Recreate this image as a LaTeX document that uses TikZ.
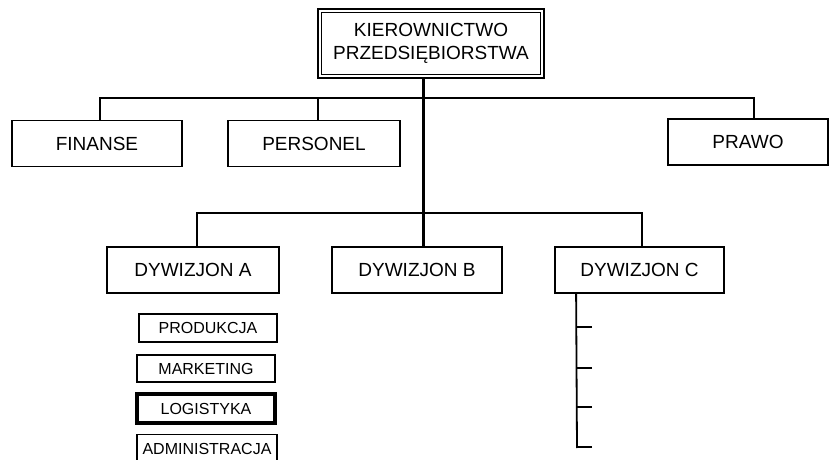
\documentclass[tikz,border=0pt]{standalone}
\usepackage{fontspec}
\setmainfont{Liberation Sans}
\begin{document}
\begin{tikzpicture}[x=1pt,y=-1pt,
  unit/.style={draw=black,line width=1.8pt,inner sep=0pt,align=center,
    font=\fontsize{19}{22.5}\selectfont},
  dept/.style={unit,minimum height=46pt},
  small/.style={draw=black,line width=1.8pt,inner sep=0pt,
    font=\fontsize{16}{18}\selectfont,minimum width=138pt,minimum height=28pt},
  link/.style={line width=1.8pt},
  trunk/.style={line width=3pt}]
\useasboundingbox (0,0) rectangle (831,460);

% management box with double frame
\node[unit,line width=2.6pt,minimum width=226pt,minimum height=69pt] (top) at (431,43.5)
  {KIEROWNICTWO\\PRZEDSIĘBIORSTWA};
\draw[line width=1.3pt] ([shift={(4.5,4.5)}]top.north west) rectangle ([shift={(-4.5,-4.5)}]top.south east);

% staff units
\node[dept,minimum width=170pt] (fin) at (97,143.5) {FINANSE};
\node[dept,minimum width=172pt] (pers) at (314,143.5) {PERSONEL};
\node[dept,minimum width=160pt] (prawo) at (748,142) {PRAWO};

% divisions
\node[dept,minimum width=172pt] (dyA) at (193,270) {DYWIZJON A};
\node[dept,minimum width=170pt] (dyB) at (417,270) {DYWIZJON B};
\node[dept,minimum width=169pt] (dyC) at (639.5,270) {DYWIZJON C};

% departments of division A
\node[small] (prod) at (208,328) {PRODUKCJA};
\node[small,minimum height=27pt] (mark) at (206,368.5) {MARKETING};
\node[small,line width=4pt,minimum height=29pt] (logi) at (206,408.5) {LOGISTYKA};
\node[small,minimum width=140pt,minimum height=29pt] (admin) at (207,449) {ADMINISTRACJA};

% connector points
\coordinate (bus1) at (423,98);
\coordinate (bus2) at (423,213);
\coordinate (cend) at (577,448);
\coordinate (t1) at (592,327);
\coordinate (t2) at (592,368);
\coordinate (t3) at (592,407);
\coordinate (t4) at (592,447);

% main trunk
\draw[trunk] (top.south -| bus1) -- (bus1 |- dyB.north);

% first level bus
\draw[link] ([xshift=3]fin.north) |- (bus1) -| ([xshift=6]prawo.north);
\draw[link] ([xshift=4]pers.north) -- ([xshift=4]pers.north |- bus1);

% second level bus
\draw[link] ([xshift=4]dyA.north) |- (bus2) -| ([xshift=2.5]dyC.north);

% division C line with ticks
\draw[link] ([xshift=22]dyC.south west) -- (cend);
\foreach \t in {t1,t2,t3,t4}
  \draw[link] (\t) -- (\t -| cend);
\end{tikzpicture}
\end{document}
